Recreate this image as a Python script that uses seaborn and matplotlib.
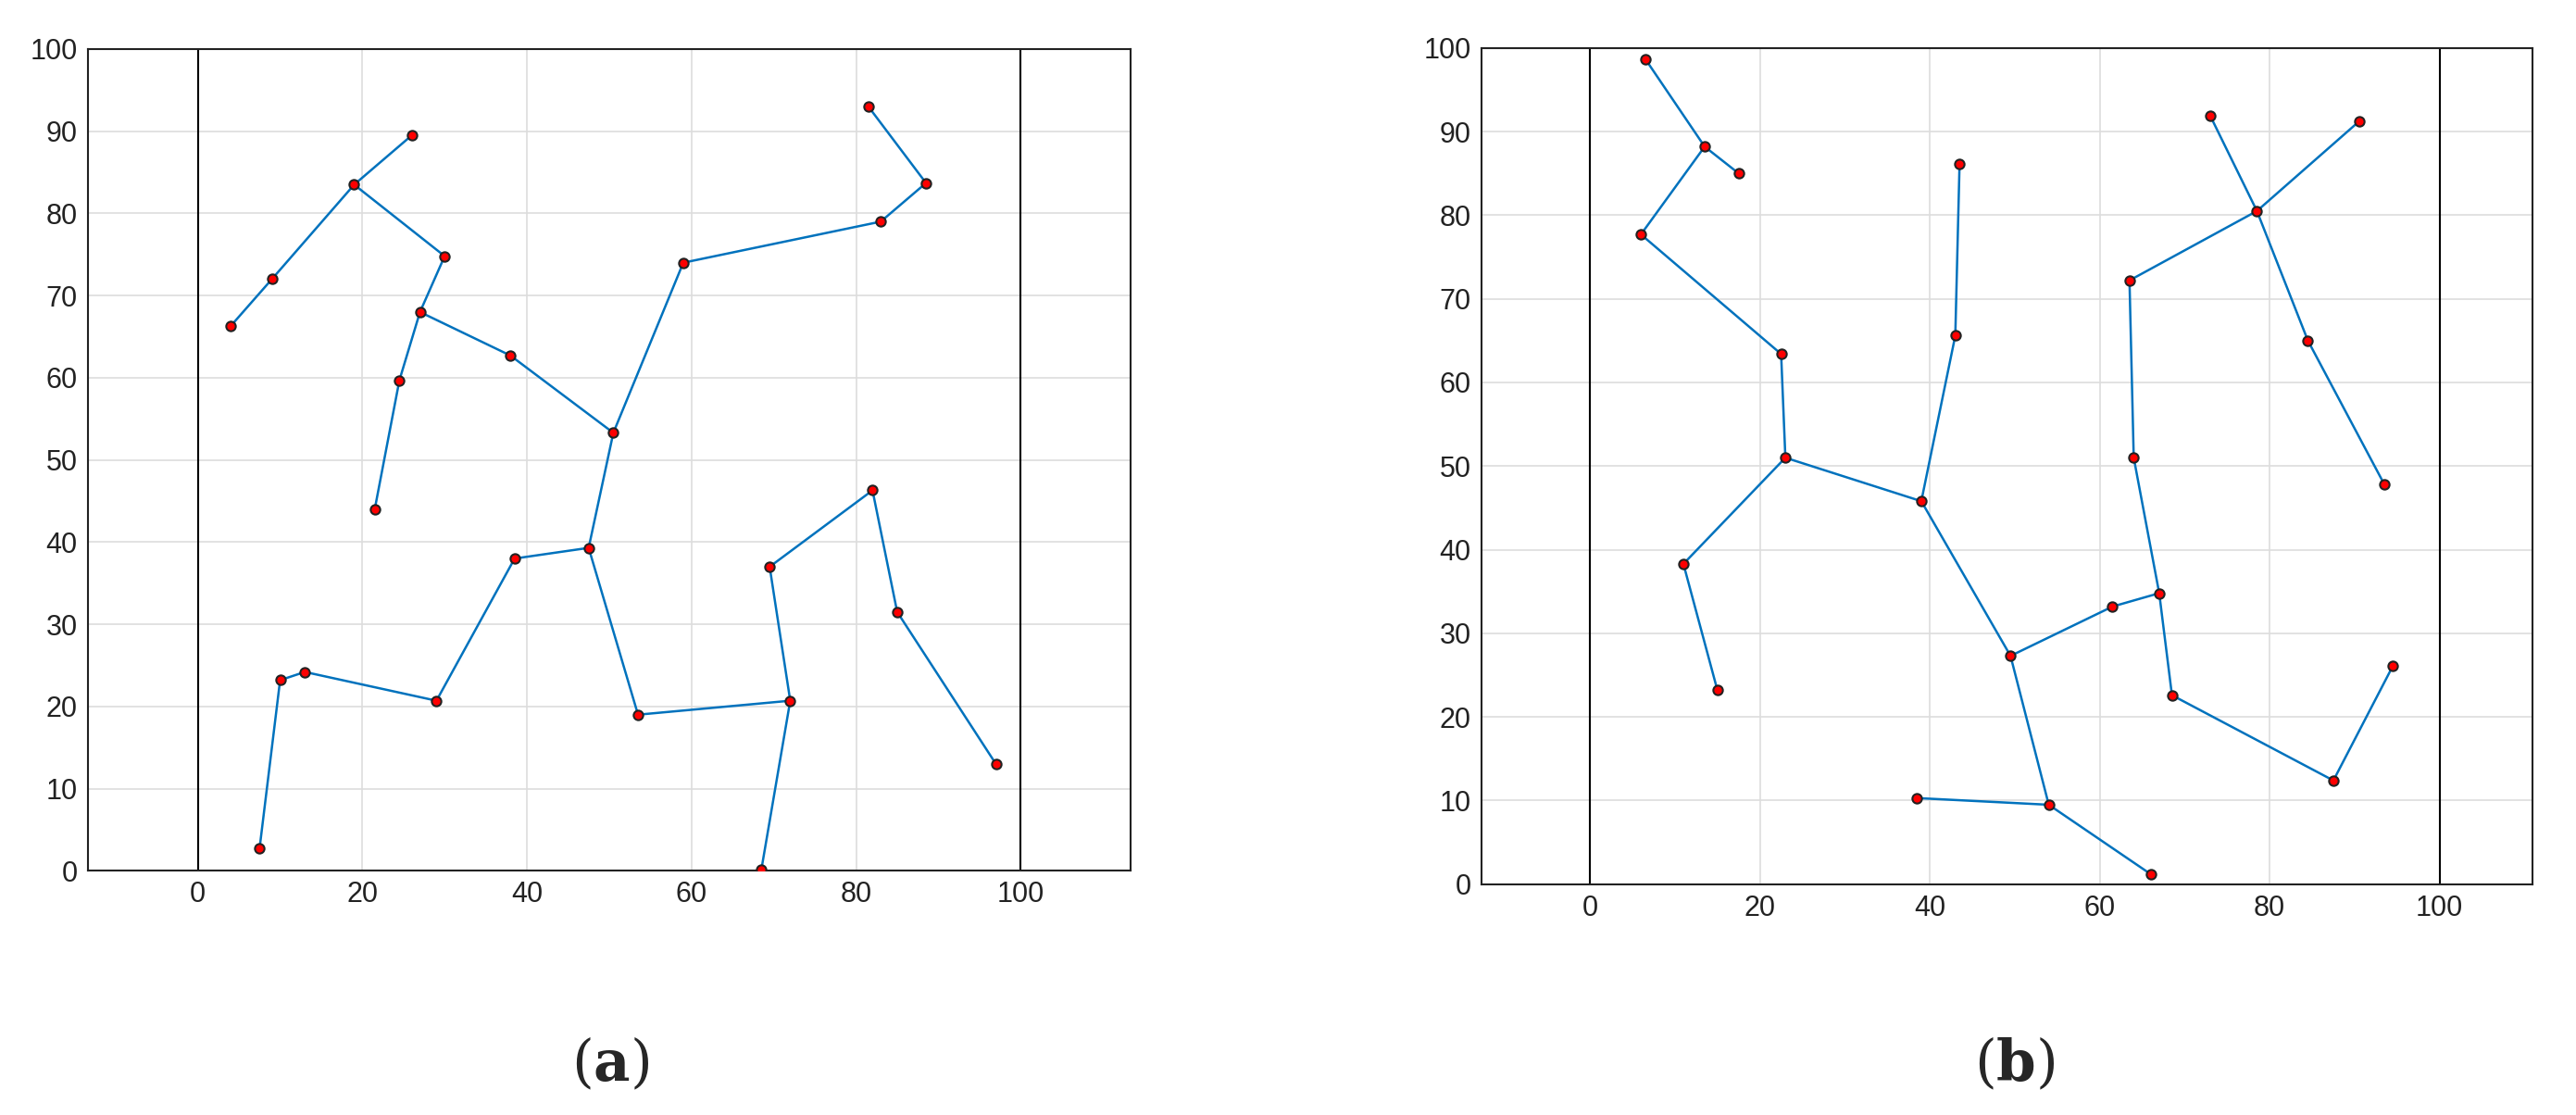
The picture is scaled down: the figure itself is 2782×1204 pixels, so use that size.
import matplotlib
matplotlib.use("Agg")
import matplotlib.pyplot as plt
import seaborn as sns
import pandas as pd

sns.set_theme(style="white")
plt.rcParams['font.family'] = ['Arial', 'Liberation Sans', 'DejaVu Sans']
plt.rcParams['mathtext.fontset'] = 'dejavuserif'

# Panel (a) nodes
ax_x = [26, 19, 30, 9, 4, 27, 24.5, 21.5, 38, 50.5, 59, 83, 88.5, 81.5, 47.5, 38.5, 29, 13, 10, 7.5, 53.5, 72, 69.5, 82, 85, 97, 68.5]
ax_y = [89.5, 83.5, 74.8, 72, 66.3, 68, 59.7, 44, 62.7, 53.3, 74, 79, 83.7, 93, 39.3, 38, 20.7, 24.2, 23.2, 2.7, 19, 20.7, 37, 46.3, 31.5, 13, 0.2]
a_edges = [(0,1),(1,3),(3,4),(1,2),(2,5),(5,6),(6,7),(5,8),(8,9),(9,10),(10,11),(11,12),(12,13),
           (9,14),(14,15),(15,16),(16,17),(17,18),(18,19),(14,20),(20,21),(21,22),(22,23),(23,24),(24,25),(21,26)]

# Panel (b) nodes
bx_x = [6.5, 13.5, 17.5, 6, 22.5, 23, 11, 15, 39, 43, 43.5, 49.5, 61.5, 67, 64, 63.5, 78.5, 73, 90.5, 84.5, 93.5, 68.5, 87.5, 94.5, 54, 38.5, 66]
bx_y = [98.7, 88.2, 85, 77.7, 63.4, 51, 38.3, 23.2, 45.8, 65.6, 86.1, 27.3, 33.2, 34.8, 51, 72.2, 80.5, 91.9, 91.2, 65, 47.8, 22.6, 12.4, 26.1, 9.5, 10.3, 1.2]
b_edges = [(0,1),(1,2),(1,3),(3,4),(4,5),(5,6),(6,7),(5,8),(8,9),(9,10),(8,11),(11,12),(12,13),(13,14),
           (14,15),(15,16),(16,17),(16,18),(16,19),(19,20),(13,21),(21,22),(22,23),(11,24),(24,25),(24,26)]

fig = plt.figure(figsize=(27.82, 12.04), dpi=100)
axA = fig.add_axes([0.034, 0.219, 0.405, 0.737])
axB = fig.add_axes([0.575, 0.207, 0.408, 0.750])

def draw(ax, xs, ys, edges, xlim):
    for i, j in edges:
        seg = pd.DataFrame({"x": [xs[i], xs[j]], "y": [ys[i], ys[j]]})
        sns.lineplot(data=seg, x="x", y="y", ax=ax, color="#0072BD", lw=1.8, sort=False, estimator=None)
    sns.scatterplot(x=xs, y=ys, ax=ax, color="red", edgecolor="#222222", s=55, linewidth=1.5, zorder=5)
    ax.axvline(0, color="black", lw=1.5)
    ax.axvline(100, color="black", lw=1.5)
    ax.set_xlim(*xlim)
    ax.set_ylim(0, 100)
    ax.set_xticks(range(0, 101, 20))
    ax.set_yticks(range(0, 101, 10))
    ax.grid(True, color="#dddddd", lw=1.2)
    ax.set_xlabel("")
    ax.set_ylabel("")
    ax.tick_params(labelsize=22, colors="#222222", length=0, pad=8)
    for s in ax.spines.values():
        s.set_color("#222222")
        s.set_linewidth(1.5)

draw(axA, ax_x, ax_y, a_edges, (-13.4, 113.4))
draw(axB, bx_x, bx_y, b_edges, (-12.8, 110.9))

for xc, lab in [(0.237, "a"), (0.782, "b")]:
    fig.text(xc, 0.045, r"($\mathbf{%s}$)" % lab, fontsize=44, ha="center", va="center",
             family="DejaVu Serif")

fig.savefig("out.png", dpi=100)
